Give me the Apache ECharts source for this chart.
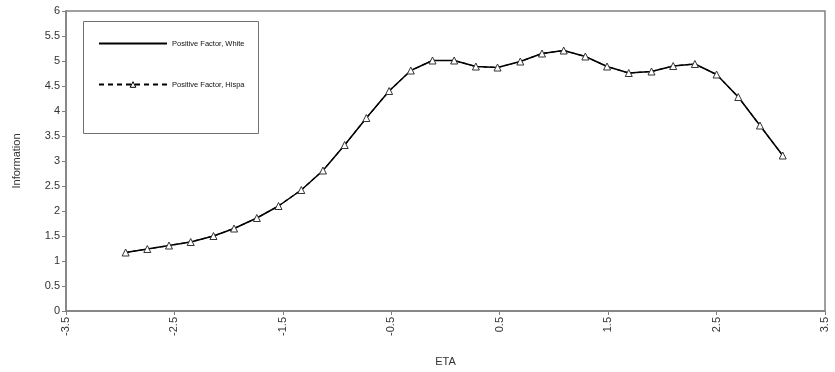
<!DOCTYPE html>
<html>
<head>
<meta charset="utf-8">
<script src="https://cdn.jsdelivr.net/npm/echarts@6/dist/echarts.min.js"></script>
<style>
  html, body { margin: 0; padding: 0; background: #fff; }
  #chart { width: 835px; height: 372px; }
</style>
</head>
<body>
<div id="chart"></div>
<script>
// Theta (ETA) quadrature points
const eta = [-2.95, -2.75, -2.55, -2.35, -2.14, -1.95, -1.74, -1.54, -1.33, -1.13,
             -0.93, -0.73, -0.52, -0.32, -0.12, 0.08, 0.28, 0.48, 0.69, 0.89,
             1.09, 1.29, 1.49, 1.69, 1.90, 2.10, 2.30, 2.50, 2.70, 2.90, 3.11];

// Test information, positive factor, by group
const infoWhite = [1.17, 1.24, 1.31, 1.38, 1.50, 1.65, 1.86, 2.10, 2.42, 2.81,
                   3.32, 3.86, 4.40, 4.81, 5.01, 5.01, 4.89, 4.87, 4.99, 5.15,
                   5.21, 5.09, 4.89, 4.76, 4.79, 4.90, 4.94, 4.73, 4.28, 3.71, 3.11];
const infoHispanic = [1.17, 1.24, 1.31, 1.38, 1.50, 1.65, 1.86, 2.10, 2.42, 2.81,
                      3.32, 3.86, 4.40, 4.81, 5.01, 5.01, 4.89, 4.87, 4.99, 5.15,
                      5.21, 5.09, 4.89, 4.76, 4.79, 4.90, 4.94, 4.73, 4.28, 3.71, 3.11];

const seriesNames = ['Positive Factor, White', 'Positive Factor, Hispanic'];
const xTicks = [-3.5, -2.5, -1.5, -0.5, 0.5, 1.5, 2.5, 3.5];

const axisGrey = '#808080';
const font = 'Arial, "Liberation Sans", sans-serif';

const chart = echarts.init(document.getElementById('chart'));
chart.setOption({
  animation: false,
  backgroundColor: '#fff',
  grid: {
    left: 66, top: 11, width: 759, height: 304,
    show: true, borderColor: axisGrey, borderWidth: 1.5, backgroundColor: 'transparent'
  },
  graphic: [{
    type: 'rect',
    shape: { x: 83.5, y: 21.5, width: 175, height: 112 },
    style: { fill: '#fff', stroke: '#707070', lineWidth: 1 },
    z: 1
  }],
  legend: {
    orient: 'vertical',
    left: 98, top: 39.5,
    padding: 0,
    itemWidth: 68, itemHeight: 7, itemGap: 33,
    z: 5,
    data: [
      { name: seriesNames[0], itemStyle: { opacity: 0 } },
      {
        name: seriesNames[1],
        itemStyle: { color: '#fff', borderColor: '#000', borderWidth: 1 },
        lineStyle: { type: [5, 4] }
      }
    ],
    textStyle: {
      fontFamily: font, fontSize: 7.5, color: '#111',
      width: 76, overflow: 'truncate', ellipsis: ''
    }
  },
  xAxis: {
    type: 'value',
    min: -3.5, max: 3.5,
    name: 'ETA',
    nameLocation: 'middle',
    nameGap: 45,
    nameTextStyle: { fontFamily: font, fontSize: 11, color: '#333' },
    axisLine: { onZero: false, lineStyle: { color: axisGrey, width: 1.5 } },
    axisTick: { show: true, length: 4, customValues: xTicks, lineStyle: { color: axisGrey } },
    axisLabel: {
      customValues: xTicks,
      rotate: 90, margin: 6,
      fontFamily: font, fontSize: 11, color: '#333',
      formatter: v => String(v)
    },
    splitLine: { show: false }
  },
  yAxis: {
    type: 'value',
    min: 0, max: 6, interval: 0.5,
    name: 'Information',
    nameLocation: 'middle',
    nameGap: 44,
    nameTextStyle: { fontFamily: font, fontSize: 11, color: '#333' },
    axisLine: { show: true, onZero: false, lineStyle: { color: axisGrey, width: 1.5 } },
    axisTick: { show: true, length: 4, lineStyle: { color: axisGrey } },
    axisLabel: { margin: 6, fontFamily: font, fontSize: 11, color: '#333' },
    splitLine: { show: false }
  },
  series: [
    {
      name: seriesNames[0],
      type: 'line',
      data: eta.map((x, i) => [x, infoWhite[i]]),
      symbol: 'none',
      lineStyle: { color: '#000', width: 1.5, type: 'solid' },
      itemStyle: { color: '#000' },
      z: 3
    },
    {
      name: seriesNames[1],
      type: 'line',
      data: eta.map((x, i) => [x, infoHispanic[i]]),
      symbol: 'triangle',
      symbolSize: 7,
      showSymbol: true,
      lineStyle: { color: '#000', width: 1.2, type: [4, 3] },
      itemStyle: { color: '#fff', borderColor: '#333', borderWidth: 1 },
      z: 4
    }
  ]
});
</script>
</body>
</html>
